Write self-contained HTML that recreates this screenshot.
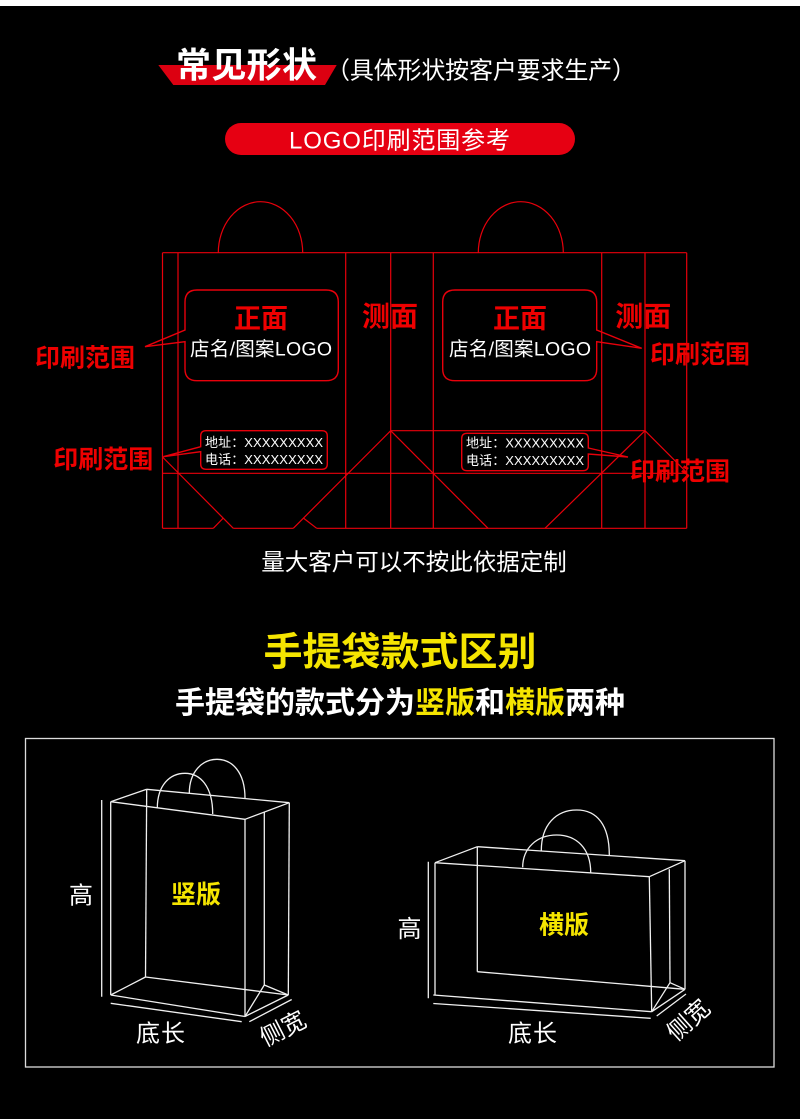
<!DOCTYPE html>
<html><head><meta charset="utf-8"><style>
html,body{margin:0;padding:0;background:#000;width:800px;height:1119px;overflow:hidden}
svg{display:block}
text{font-family:"Liberation Sans","Noto Sans CJK SC",sans-serif}
</style></head><body>
<svg width="800" height="1119" viewBox="0 0 800 1119" xmlns="http://www.w3.org/2000/svg">
<rect width="800" height="1119" fill="#000"/>
<rect width="800" height="6" fill="#fff"/>

<!-- title -->
<polygon points="158.3,65 336.7,65 325,85 173.3,85" fill="#dc0011"/>
<text x="176" y="77.5" font-size="35" font-weight="bold" fill="#fff" textLength="141">常见形状</text>
<text x="326" y="78.3" font-size="24" fill="#fff" textLength="310">（具体形状按客户要求生产）</text>

<rect x="225" y="123" width="350" height="32" rx="16" fill="#e60012"/>
<text x="289" y="148.5" font-size="24" fill="#fff" textLength="221">LOGO印刷范围参考</text>

<!-- die-line -->
<g stroke="#e8000b" stroke-width="1.2" fill="none">
<line x1="162.5" y1="252.7" x2="686.7" y2="252.7"/>
<line x1="162.5" y1="252.7" x2="162.5" y2="528.3"/>
<line x1="178" y1="252.7" x2="178" y2="528.3"/>
<line x1="345.7" y1="252.7" x2="345.7" y2="528.3"/>
<line x1="390.7" y1="252.7" x2="390.7" y2="528.3"/>
<line x1="433.3" y1="252.7" x2="433.3" y2="528.3"/>
<line x1="601.7" y1="252.7" x2="601.7" y2="528.3"/>
<line x1="645" y1="252.7" x2="645" y2="528.3"/>
<line x1="686.7" y1="252.7" x2="686.7" y2="528.3"/>
<line x1="162.5" y1="473.3" x2="686.7" y2="473.3"/>
<line x1="390.7" y1="430.7" x2="645" y2="430.7"/>
<line x1="162.5" y1="528.3" x2="213.3" y2="528.3"/>
<line x1="233.3" y1="528.3" x2="293.3" y2="528.3"/>
<line x1="316.7" y1="528.3" x2="686.7" y2="528.3"/>
<line x1="162.5" y1="457" x2="233.3" y2="528.3"/>
<line x1="213.3" y1="528.3" x2="223.3" y2="518"/>
<line x1="390.7" y1="430.7" x2="293.3" y2="528.3"/>
<line x1="303.3" y1="518" x2="316.7" y2="528.3"/>
<line x1="390.7" y1="430.7" x2="488" y2="528.3"/>
<line x1="645" y1="430.7" x2="545" y2="528.3"/>
<line x1="645" y1="430.7" x2="686.7" y2="472.4"/>
<path d="M218.3,252.7 A42.2 51 0 0 1 302.7,252.7"/>
<path d="M478.3,252.7 A42.5 51 0 0 1 563.3,252.7"/>
<!-- bubbles -->
<path d="M197,290 H326 Q338.3,290 338.3,302 V369 Q338.3,380.7 326,380.7 H197 Q185,380.7 185,369 V341.7 L145,346.7 L185,330 V302 Q185,290 197,290 Z" stroke-width="1.4"/>
<path d="M455,290 H584.7 Q596.7,290 596.7,302 V330 L641.7,348.3 L596.7,341.7 V369 Q596.7,380.7 584.7,380.7 H455 Q442.7,380.7 442.7,369 V302 Q442.7,290 455,290 Z" stroke-width="1.4"/>
<path d="M206,430.7 H322 Q327.3,430.7 327.3,436 V464 Q327.3,469.3 322,469.3 H206 Q200.7,469.3 200.7,464 V451.7 L163.3,456.7 L200.7,446.7 V436 Q200.7,430.7 206,430.7 Z" stroke-width="1.4"/>
<path d="M467,433.3 H583 Q588.3,433.3 588.3,438.6 V448 L628,457 L588.3,454 V465.4 Q588.3,470.7 583,470.7 H467 Q461.7,470.7 461.7,465.4 V438.6 Q461.7,433.3 467,433.3 Z" stroke-width="1.4"/>
</g>

<g font-weight="bold" fill="#ee0000" text-anchor="middle">
<text x="261" y="328" font-size="27">正面</text>
<text x="520" y="328" font-size="27">正面</text>
<text x="390" y="326" font-size="28">测面</text>
<text x="643.3" y="326" font-size="28">测面</text>
<text x="85" y="366.5" font-size="25">印刷范围</text>
<text x="103.3" y="468" font-size="25">印刷范围</text>
<text x="700" y="363" font-size="25">印刷范围</text>
<text x="680" y="480" font-size="25">印刷范围</text>
</g>
<g fill="#fff">
<text x="190" y="355.5" font-size="19.5" textLength="142">店名/图案LOGO</text>
<text x="449" y="355.5" font-size="19.5" textLength="142">店名/图案LOGO</text>
<text x="205" y="447" font-size="13" textLength="118">地址：XXXXXXXXX</text>
<text x="205" y="464" font-size="13" textLength="118">电话：XXXXXXXXX</text>
<text x="466" y="447.5" font-size="13" textLength="118">地址：XXXXXXXXX</text>
<text x="466" y="465" font-size="13" textLength="118">电话：XXXXXXXXX</text>
</g>

<text x="414" y="570" font-size="23.5" fill="#fff" text-anchor="middle">量大客户可以不按此依据定制</text>
<text x="400" y="665.5" font-size="39" font-weight="bold" fill="#f5e500" text-anchor="middle">手提袋款式区别</text>
<text x="400" y="713" font-size="30" font-weight="bold" fill="#fff" text-anchor="middle">手提袋的款式分为<tspan fill="#f5e500">竖版</tspan>和<tspan fill="#f5e500">横版</tspan>两种</text>

<!-- frame -->
<rect x="25.5" y="738.5" width="748.5" height="328.5" fill="none" stroke="#dcdcdc" stroke-width="1.3"/>

<g stroke="#f0f0f0" stroke-width="1.3" fill="none">
<!-- left bag -->
<line x1="101.7" y1="800" x2="101.7" y2="996.7"/>
<line x1="110.7" y1="801.7" x2="110.7" y2="995"/>
<line x1="110.7" y1="801.7" x2="245" y2="819.3"/>
<line x1="110.7" y1="801.7" x2="146.7" y2="789.3"/>
<line x1="146.7" y1="789.3" x2="289.3" y2="802.7"/>
<line x1="245" y1="819.3" x2="289.3" y2="802.7"/>
<line x1="146.7" y1="789.3" x2="145.5" y2="977"/>
<line x1="245" y1="819.3" x2="245" y2="1016.5"/>
<line x1="264.3" y1="812.2" x2="264.3" y2="985"/>
<line x1="289.3" y1="802.7" x2="288.3" y2="995"/>
<line x1="110.7" y1="995" x2="245" y2="1016.5"/>
<line x1="110.7" y1="995" x2="145.5" y2="977"/>
<line x1="145.5" y1="977" x2="288.3" y2="995"/>
<line x1="264.3" y1="985" x2="245" y2="1016.5"/>
<line x1="264.3" y1="985" x2="288.3" y2="995"/>
<line x1="245" y1="1016.5" x2="288.3" y2="995"/>
<line x1="110.7" y1="1003.3" x2="241.7" y2="1021.7"/>
<line x1="249.3" y1="1021.7" x2="291.7" y2="999.5"/>
<path d="M189.3,793.3 C189.3,772 202,759.3 217,759.3 C232,759.3 245,772 245,798.3"/>
<path d="M157.3,808.3 C157.3,785 170,773.3 185,773.3 C200,773.3 212.7,786 212.7,814"/>
<!-- right bag -->
<line x1="428.3" y1="861.7" x2="428.3" y2="998.3"/>
<line x1="435" y1="862.7" x2="435" y2="995"/>
<line x1="435" y1="862.7" x2="649.3" y2="876.7"/>
<line x1="435" y1="862.7" x2="477.3" y2="846.7"/>
<line x1="477.3" y1="846.7" x2="685" y2="860.7"/>
<line x1="649.3" y1="876.7" x2="685" y2="860.7"/>
<line x1="477.3" y1="846.7" x2="477.3" y2="971.7"/>
<line x1="477.3" y1="971.7" x2="685" y2="989.3"/>
<line x1="649.3" y1="876.7" x2="651.7" y2="1011.7"/>
<line x1="669.3" y1="869.3" x2="670" y2="982.7"/>
<line x1="685" y1="860.7" x2="685" y2="989.3"/>
<line x1="433.3" y1="995" x2="651.7" y2="1011.7"/>
<line x1="670" y1="982.7" x2="651.7" y2="1011.7"/>
<line x1="670" y1="982.7" x2="685" y2="989.3"/>
<line x1="651.7" y1="1011.7" x2="685" y2="989.3"/>
<line x1="433.3" y1="1003.5" x2="650.7" y2="1018.3"/>
<line x1="656.7" y1="1016" x2="686" y2="994"/>
<path d="M541.3,850.7 C541.3,825 556,810 576.7,810 C597,810 609.3,825 609.3,855"/>
<path d="M522.7,867.3 C522.7,848 537,835 556.7,835 C576,835 590.7,848 590.7,872.7"/>
</g>

<g fill="#fff" font-size="24">
<text x="69" y="903.5">高</text>
<text x="136" y="1041.5" textLength="49">底长</text>
<text x="283" y="1037" text-anchor="middle" transform="rotate(-27 283 1028.7)">侧宽</text>
<text x="397.5" y="937">高</text>
<text x="508" y="1041.5" textLength="49">底长</text>
<text x="688.3" y="1028.5" text-anchor="middle" transform="rotate(-42 688.3 1020)">侧宽</text>
</g>
<g fill="#f5e500" font-size="25" font-weight="bold">
<text x="171" y="903">竖版</text>
<text x="539" y="933.5">横版</text>
</g>
</svg>
</body></html>
